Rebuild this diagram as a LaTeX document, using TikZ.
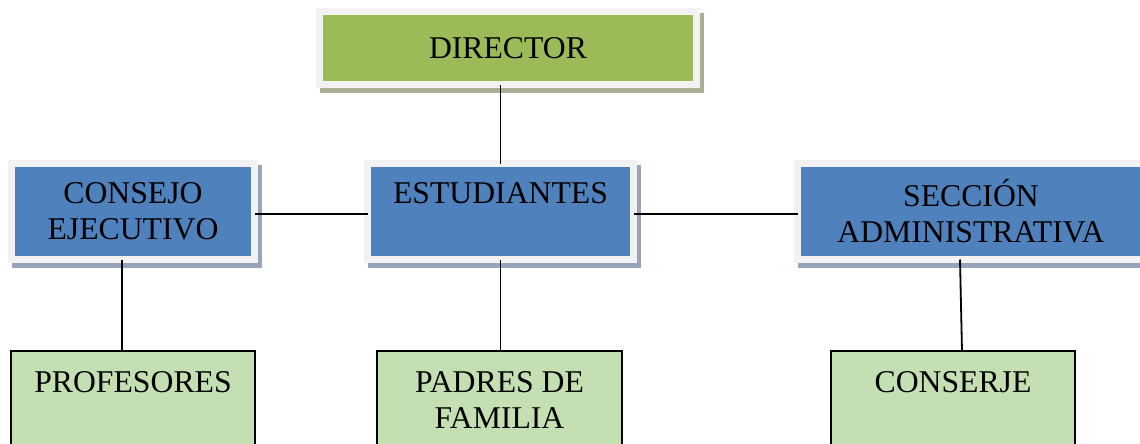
\documentclass[tikz,border=0pt]{standalone}
\usepackage{fontspec}
\setmainfont{Liberation Serif}
\definecolor{dirgreen}{HTML}{9BBB59}
\definecolor{boxblue}{HTML}{4F81BD}
\definecolor{framegray}{HTML}{F2F2F2}
\definecolor{shgreen}{HTML}{A7AF95}
\definecolor{shblue}{HTML}{98A4BA}
\definecolor{lightgreen}{HTML}{C4DFB2}
\begin{document}
\begin{tikzpicture}[x=1pt,y=-1pt,
  every node/.style={font=\fontsize{31.7}{36}\selectfont, inner sep=0pt, outer sep=0pt, align=center},
  topbox/.style={draw=framegray, line width=7pt, fill=#1, minimum height=96pt},
  shadowed/.style={preaction={draw=#1, fill=#1, line width=7pt, transform canvas={shift={(4pt,-5pt)}}}},
  lowbox/.style={draw=black, line width=1.4pt, fill=lightgreen, minimum width=244pt, minimum height=98pt, anchor=north},
  link/.style={draw=black, line width=1.8pt}
]
\useasboundingbox (0,0) rectangle (1140,444);

\node[topbox=dirgreen, shadowed=shgreen, minimum width=377pt, minimum height=73pt] (dir) at (508,48) {DIRECTOR};
\node[topbox=boxblue, shadowed=shblue, minimum width=243pt] (con) at (133,211.5) {CONSEJO\\EJECUTIVO};
\node[topbox=boxblue, shadowed=shblue, minimum width=266pt] (est) at (500.5,211.5) {ESTUDIANTES\\\mbox{}};
\node[topbox=boxblue, shadowed=shblue, minimum width=347pt] (sec) at (971,211.5) {SECCIÓN\\ADMINISTRATIVA};

\node[lowbox] (pro) at (133,351) {PROFESORES\\\mbox{}};
\node[lowbox, minimum width=245pt] (pad) at (499.5,351) {PADRES DE\\FAMILIA};
\node[lowbox] (cje) at (953,351) {CONSERJE\\\mbox{}};

\draw[link] (est.north) -- (est.north |- dir.south);
\draw[link] ([yshift=-2.5pt]con.east) -- ([yshift=-2.5pt]est.west);
\draw[link] ([yshift=-2.5pt]est.east) -- ([yshift=-2.5pt]sec.west);
\draw[link] ([xshift=-11pt]con.south) -- ([xshift=-11pt]con.south |- pro.north);
\draw[link] (est.south) -- (est.south |- pad.north);
\draw[link] ([xshift=-11pt]sec.south) -- ([xshift=9pt]cje.north);
\end{tikzpicture}
\end{document}
